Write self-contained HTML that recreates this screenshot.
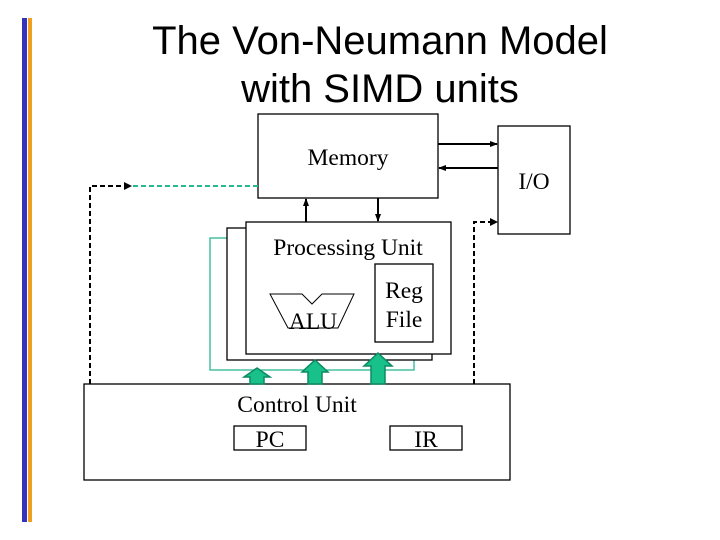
<!DOCTYPE html>
<html><head><style>
html,body{margin:0;padding:0;background:#fff;}
svg{display:block;}
</style></head><body>
<svg width="720" height="540" viewBox="0 0 720 540" xmlns="http://www.w3.org/2000/svg">
<defs>
<marker id="ah" markerWidth="8" markerHeight="8" refX="7" refY="4" orient="auto" markerUnits="userSpaceOnUse">
<path d="M0,1 L8,4 L0,7 Z" fill="#000"/>
</marker>
</defs>
<rect x="22" y="18" width="5" height="504" fill="#3333bb"/>
<rect x="28" y="18" width="4" height="504" fill="#f0a020"/>
<g font-family="Liberation Sans, sans-serif" font-size="40" text-anchor="middle" fill="#000">
<text x="380" y="54">The Von-Neumann Model</text>
<text x="380" y="102">with SIMD units</text>
</g>
<g fill="none" stroke="#000" stroke-width="1.3">
<rect x="258" y="114" width="180" height="84" fill="#fff"/>
<rect x="498" y="126" width="72" height="108" fill="#fff"/>
</g>
<line x1="438" y1="144" x2="497" y2="144" stroke="#000" stroke-width="2" marker-end="url(#ah)"/>
<line x1="498" y1="168" x2="439" y2="168" stroke="#000" stroke-width="2" marker-end="url(#ah)"/>
<line x1="306" y1="222" x2="306" y2="199" stroke="#000" stroke-width="2" marker-end="url(#ah)"/>
<line x1="378" y1="198" x2="378" y2="221" stroke="#000" stroke-width="2" marker-end="url(#ah)"/>
<polyline points="90,384 90,186 130,186" fill="none" stroke="#000" stroke-width="2" stroke-dasharray="5,3"/>
<path d="M124,182 L132,186 L124,190 Z" fill="#000"/>
<line x1="133" y1="186" x2="258" y2="186" stroke="#2ab890" stroke-width="2" stroke-dasharray="5,3"/>
<polyline points="474,384 474,222 492,222" fill="none" stroke="#000" stroke-width="2" stroke-dasharray="5,3"/>
<path d="M490,218 L498,222 L490,226 Z" fill="#000"/>
<rect x="210" y="238" width="204" height="132" fill="none" stroke="#2ab890" stroke-width="1.3"/>
<rect x="227" y="228" width="205" height="132" fill="#fff" stroke="#000" stroke-width="1.3"/>
<rect x="246" y="222" width="205" height="132" fill="#fff" stroke="#000" stroke-width="1.3"/>
<polygon points="270,294 302,294 312,304 322,294 354,294 338,328 288,328" fill="none" stroke="#000" stroke-width="1"/>
<rect x="375" y="264" width="58" height="78" fill="none" stroke="#000" stroke-width="1.3"/>
<rect x="84" y="384" width="426" height="96" fill="#fff" stroke="#000" stroke-width="1.3"/>
<rect x="234" y="426" width="72" height="24" fill="none" stroke="#000" stroke-width="1.3"/>
<rect x="390" y="426" width="72" height="24" fill="none" stroke="#000" stroke-width="1.3"/>
<g fill="#18c08a" stroke="#0b8a62" stroke-width="1.5">
<path d="M257,368 L270,377 L264,377 L264,384 L250,384 L250,377 L244,377 Z"/>
<path d="M315,360 L328,372 L322,372 L322,384 L308,384 L308,372 L302,372 Z"/>
<path d="M378,353 L392,366 L385,366 L385,384 L371,384 L371,366 L364,366 Z"/>
</g>
<g font-family="Liberation Serif, serif" font-size="23.5" fill="#000" text-anchor="middle">
<text x="348" y="165">Memory</text>
<text x="534" y="189">I/O</text>
<text x="348" y="255">Processing Unit</text>
<text x="404" y="298">Reg</text>
<text x="404" y="327">File</text>
<text x="313" y="329">ALU</text>
<text x="297" y="412">Control Unit</text>
<text x="270" y="447">PC</text>
<text x="426" y="447">IR</text>
</g>
</svg>
</body></html>
